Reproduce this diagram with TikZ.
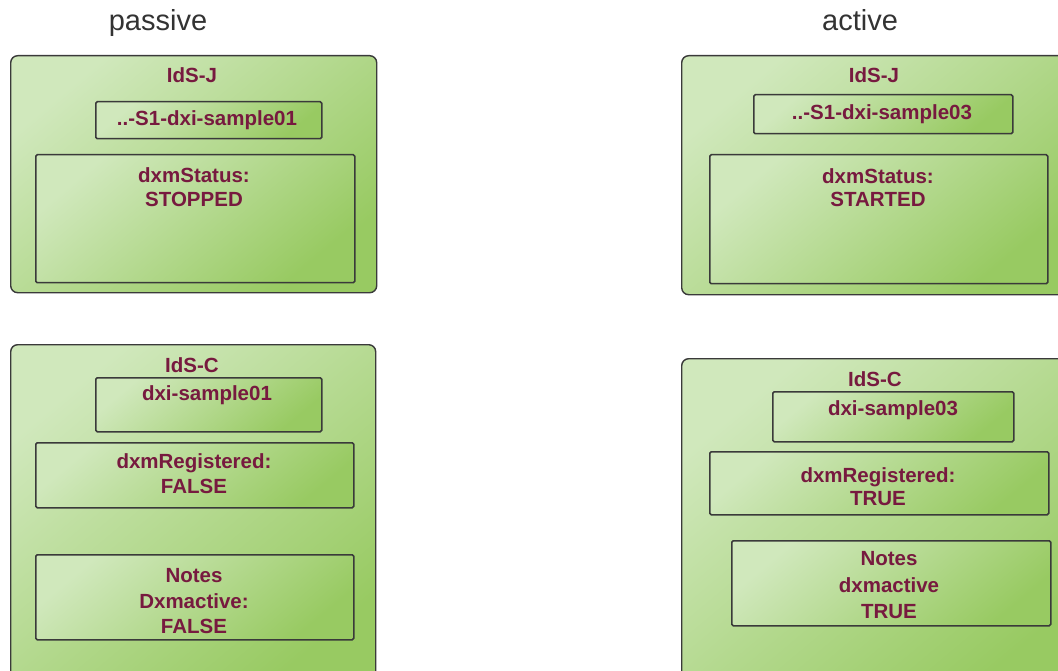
\documentclass[tikz,border=0pt]{standalone}
\usepackage{fontspec}
\setmainfont{Liberation Sans}
\definecolor{gl}{HTML}{D0E8BC}
\definecolor{gd}{HTML}{98CA62}
\definecolor{boxline}{HTML}{3A3A3A}
\definecolor{lbl}{HTML}{771A3F}
\definecolor{head}{HTML}{333333}
\begin{document}
\begin{tikzpicture}[x=1pt,y=-1pt,
  greenfill/.style={top color=gl, bottom color=gd, shading angle=40},
  outerbox/.style={greenfill, draw=boxline, line width=1.4pt, rounded corners=7pt, anchor=north west, inner sep=0pt},
  innerbox/.style={greenfill, draw=boxline, line width=1.5pt, rounded corners=1.5pt, anchor=north west, inner sep=0pt},
  lab/.style={font=\fontsize{20.5}{24}\selectfont\bfseries, text=lbl, anchor=base, inner sep=0pt},
  heading/.style={font=\fontsize{29}{34}\selectfont, text=head, anchor=base, inner sep=0pt}
]
\useasboundingbox (0,0) rectangle (1058,671);
\clip (0,0) rectangle (1058,671);

% headings
\node[heading] (hpas) at (158,31) {passive};
\node[heading] (hact) at (860,31) {active};

% ---------- top left ----------
\node[outerbox, minimum width=366pt, minimum height=237pt] (oTL) at (10,55) {};
\node[lab] (tTLt) at (192,83) {IdS-J};
\node[innerbox, minimum width=226pt, minimum height=37pt] (sTL) at (95,101) {};
\node[lab] (tTLs) at (207,126) {..-S1-dxi-sample01};
\node[innerbox, minimum width=319pt, minimum height=128pt] (stTL) at (35,154) {};
\node[lab] (tTLa) at (194,183) {dxmStatus:};
\node[lab] (tTLb) at (194,207) {STOPPED};

% ---------- top right ----------
\node[outerbox, minimum width=400pt, minimum height=239pt] (oTR) at (681,55) {};
\node[lab] (tTRt) at (874,83) {IdS-J};
\node[innerbox, minimum width=259pt, minimum height=39pt] (sTR) at (753,94) {};
\node[lab] (tTRs) at (882,120) {..-S1-dxi-sample03};
\node[innerbox, minimum width=338pt, minimum height=129pt] (stTR) at (709,154) {};
\node[lab] (tTRa) at (878,184) {dxmStatus:};
\node[lab] (tTRb) at (878,207) {STARTED};

% ---------- bottom left ----------
\node[outerbox, minimum width=365pt, minimum height=345pt] (oBL) at (10,344) {};
\node[lab] (tBLt) at (192,372) {IdS-C};
\node[innerbox, minimum width=226pt, minimum height=54pt] (sBL) at (95,377) {};
\node[lab] (tBLs) at (207,400) {dxi-sample01};
\node[innerbox, minimum width=318pt, minimum height=65pt] (rBL) at (35,442) {};
\node[lab] (tBLr1) at (194,468) {dxmRegistered:};
\node[lab] (tBLr2) at (194,493) {FALSE};
\node[innerbox, minimum width=318pt, minimum height=85pt] (nBL) at (35,554) {};
\node[lab] (tBLn1) at (194,582) {Notes};
\node[lab] (tBLn2) at (194,608) {Dxmactive:};
\node[lab] (tBLn3) at (194,633) {FALSE};

% ---------- bottom right ----------
\node[outerbox, minimum width=400pt, minimum height=335pt] (oBR) at (681,358) {};
\node[lab] (tBRt) at (875,386) {IdS-C};
\node[innerbox, minimum width=241pt, minimum height=50pt] (sBR) at (772,391) {};
\node[lab] (tBRs) at (893,415) {dxi-sample03};
\node[innerbox, minimum width=339pt, minimum height=63pt] (rBR) at (709,451) {};
\node[lab] (tBRr1) at (878,482) {dxmRegistered:};
\node[lab] (tBRr2) at (878,505) {TRUE};
\node[innerbox, minimum width=319pt, minimum height=85pt] (nBR) at (731,540) {};
\node[lab] (tBRn1) at (889,565) {Notes};
\node[lab] (tBRn2) at (889,592) {dxmactive};
\node[lab] (tBRn3) at (889,618) {TRUE};
\end{tikzpicture}
\end{document}
